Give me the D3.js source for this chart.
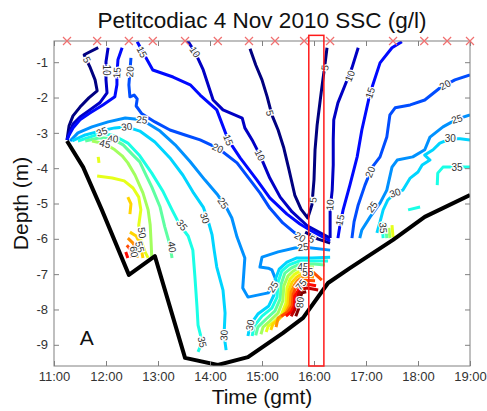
<!DOCTYPE html>
<html>
<head>
<meta charset="utf-8">
<script src="https://cdn.jsdelivr.net/npm/d3@7"></script>
<style>
  body { margin: 0; background: #fff; }
  text { font-family: Arial, "Liberation Sans", sans-serif; }
</style>
</head>
<body>
<script>

// ticks
var hours = [11, 12, 13, 14, 15, 16, 17, 18, 19];
var depthTicks = [-1, -2, -3, -4, -5, -6, -7, -8, -9];

// times of the profiles (red crosses) and the highlighted profile window
var castTimes = [11.25, 11.83, 12.44, 12.90, 13.52, 14.15, 14.75, 15.25, 15.81, 16.31, 17.52, 18.12, 18.56, 19.0];
var boxTimes = [15.90, 16.19];

// river bed [time, depth]
var bed = [[11.25,-3.23],[11.56,-3.97],[11.92,-5.18],[12.44,-7.02],[12.94,-6.49],[13.52,-9.37],
           [14.15,-9.57],[14.73,-9.35],[15.40,-8.67],[15.79,-8.24],[16.27,-7.25],[16.69,-6.83],
           [17.52,-6.03],[18.13,-5.38],[19.0,-4.76]];

// SSC contours [level g/l, [[time, depth], ...]]
var leftContours = [
  [5,  [[11.85,-0.59],[11.58,-0.79],[11.69,-1.13],[11.79,-1.50],[11.83,-1.81],[11.67,-2.01],[11.5,-2.27],[11.365,-2.52],[11.29,-2.80],[11.25,-3.20]]],
  [10, [[12.04,-0.59],[12.0,-0.99],[12.0,-1.50],[12.02,-1.87],[11.88,-2.15],[11.69,-2.35],[11.5,-2.55],[11.365,-2.75],[11.31,-2.95],[11.25,-3.20]]],
  [15, [[12.31,-0.59],[12.23,-0.93],[12.21,-1.36],[12.21,-1.64],[12.17,-1.98],[11.94,-2.21],[11.69,-2.44],[11.5,-2.63],[11.365,-2.86],[11.29,-3.06],[11.25,-3.20]]],
  [25, [[11.31,-3.23],[11.46,-3.00],[11.73,-2.83],[12.04,-2.69],[12.37,-2.58],[12.69,-2.63],[13.04,-2.95],[13.33,-3.34],[13.62,-3.82],[13.9,-4.33],[14.15,-4.76],[14.31,-5.10],[14.42,-5.41],[14.52,-5.95],[14.67,-6.54],[14.63,-7.39],[14.73,-7.65],[15.12,-7.53],[15.27,-7.17],[15.19,-6.88],[15.12,-6.83],[14.96,-6.80],[15.0,-6.52],[15.31,-6.37],[15.63,-6.26],[15.79,-6.23],[16.31,-6.32]]],
  [30, [[11.35,-3.23],[11.6,-3.06],[11.88,-2.95],[12.17,-2.86],[12.40,-2.83],[12.65,-2.95],[12.94,-3.26],[13.23,-3.71],[13.48,-4.20],[13.67,-4.67],[13.87,-5.10],[13.96,-5.47],[14.04,-5.89],[14.08,-6.32],[14.13,-6.80],[14.25,-7.45],[14.29,-8.10],[14.27,-8.73],[14.31,-9.15]]],
  [35, [[11.46,-3.23],[11.69,-3.12],[11.92,-3.00],[12.17,-3.09],[12.42,-3.29],[12.65,-3.65],[12.88,-4.14],[13.10,-4.67],[13.27,-5.18],[13.42,-5.61],[13.58,-5.92],[13.67,-6.32],[13.71,-7.08],[13.75,-7.93],[13.77,-8.44],[13.85,-8.92],[13.77,-9.20]]],
  [40, [[11.6,-3.23],[11.88,-3.14],[12.13,-3.17],[12.33,-3.34],[12.52,-3.63],[12.65,-3.82],[12.77,-4.20],[12.88,-4.53],[13.04,-5.10],[13.13,-5.66],[13.23,-6.18],[13.27,-6.54]]],
  [45, [[11.73,-3.23],[11.98,-3.31],[12.17,-3.48],[12.31,-3.65],[12.42,-3.85],[12.56,-4.20],[12.71,-4.70],[12.81,-5.18],[12.85,-5.61],[12.87,-6.18],[12.88,-6.54]]],
  [50, [[11.83,-4.22],[12.12,-4.28],[12.35,-4.36],[12.52,-4.56],[12.63,-4.82],[12.67,-5.18],[12.63,-5.61],[12.67,-6.03],[12.75,-6.37],[12.81,-6.54]]],
  [50, [[11.85,-3.68],[11.865,-3.85]]],
  [55, [[12.42,-4.82],[12.48,-5.01],[12.46,-5.30]]],
  [55, [[12.46,-5.81],[12.58,-5.92],[12.65,-6.12],[12.69,-6.37],[12.71,-6.54]]],
  [60, [[12.42,-5.98],[12.52,-6.12],[12.58,-6.32],[12.60,-6.54]]],
  [65, [[12.40,-6.18],[12.48,-6.32],[12.5,-6.54]]],
  [70, [[12.38,-6.37],[12.42,-6.54]]]
];

var midContours = [
  [5,  [[14.77,-0.62],[14.88,-1.08],[15.0,-1.50],[15.10,-1.98],[15.19,-2.49],[15.31,-2.92],[15.42,-3.43],[15.52,-4.05],[15.63,-4.76],[15.75,-5.16],[15.88,-5.41],[15.96,-5.04],[16.0,-4.33],[16.02,-3.48],[16.06,-2.78],[16.12,-2.07],[16.17,-1.50],[16.21,-1.08],[16.25,-0.59]]],
  [5,  [[15.83,-5.81],[16.08,-6.01],[16.31,-6.12]]],
  [10, [[13.56,-0.37],[13.71,-0.71],[13.87,-1.22],[14.06,-2.07],[14.25,-2.35],[14.62,-2.58],[14.67,-2.86],[14.81,-3.20],[14.96,-3.63],[15.15,-4.28],[15.35,-4.82],[15.58,-5.24],[15.87,-5.63],[16.12,-5.83],[16.31,-5.98]]],
  [15, [[12.60,-0.42],[12.79,-0.93],[12.9,-1.22],[13.29,-1.42],[13.62,-1.64],[13.81,-1.93],[14.13,-2.35],[14.35,-3.20],[14.58,-3.71],[14.9,-4.33],[15.15,-4.84],[15.48,-5.30],[15.73,-5.58],[15.92,-5.75],[16.31,-6.06]]],
  [20, [[12.48,-0.88],[12.46,-1.27],[12.44,-1.64],[12.46,-1.98],[12.54,-1.93],[12.60,-2.04],[12.58,-2.24],[12.69,-2.46],[12.94,-2.69],[13.23,-2.92],[13.52,-3.06],[13.81,-3.20],[14.15,-3.43],[14.52,-3.85],[14.77,-4.33],[14.96,-4.70],[15.15,-5.13],[15.40,-5.55],[15.63,-5.83],[15.77,-5.95]]]
];

var rightContours = [
  [10, [[16.85,-0.59],[16.73,-1.16],[16.6,-1.64],[16.46,-2.15],[16.38,-2.63],[16.37,-3.20],[16.37,-3.91],[16.35,-4.62],[16.31,-5.18],[16.31,-5.98]]],
  [15, [[17.69,-0.42],[17.5,-0.59],[17.27,-1.02],[17.08,-1.87],[16.92,-2.92],[16.83,-3.68],[16.69,-4.48],[16.56,-5.18],[16.5,-5.61],[16.46,-5.98]]],
  [20, [[19.0,-1.36],[18.71,-1.50],[18.42,-1.73],[18.13,-2.07],[17.85,-2.21],[17.56,-2.29],[17.46,-2.49],[17.40,-3.12],[17.27,-3.68],[17.12,-3.97],[16.98,-4.48],[16.85,-5.04],[16.77,-5.52],[16.73,-5.98]]],
  [25, [[19.0,-2.49],[18.75,-2.61],[18.48,-2.83],[18.23,-3.12],[18.13,-3.48],[17.9,-3.68],[17.6,-3.77],[17.5,-3.97],[17.40,-4.62],[17.27,-4.99],[17.08,-5.38],[16.92,-5.75],[16.88,-5.98]]],
  [30, [[19.0,-3.20],[18.81,-3.17],[18.62,-3.17],[18.42,-3.29],[18.29,-3.48],[18.13,-3.63],[18.23,-3.77],[18.08,-3.91],[18.0,-4.11],[17.85,-4.28],[17.71,-4.62],[17.56,-4.70],[17.42,-4.90],[17.33,-5.18],[17.27,-5.52],[17.21,-5.83]]],
  [35, [[19.0,-3.97],[18.71,-3.97],[18.48,-3.97],[18.38,-4.14],[18.37,-4.48]]],
  [35, [[17.81,-5.18],[18.04,-5.10]]],
  [35, [[17.31,-5.52],[17.33,-5.98]]],
  [40, [[17.38,-5.61],[17.40,-5.98]]],
  [45, [[17.44,-5.69],[17.46,-5.98]]],
  [50, [[17.5,-5.61],[17.52,-5.95]]]
];

// high concentration core near the bed at ~15:30
var coreContours = [
  [30, [[14.73,-8.75],[14.77,-8.44],[14.92,-8.13],[15.13,-7.90],[15.23,-7.59],[15.25,-7.17],[15.33,-6.86],[15.48,-6.66],[15.67,-6.54],[15.96,-6.54],[16.31,-6.52]]],
  [35, [[14.81,-8.75],[14.85,-8.47],[15.0,-8.19],[15.19,-7.96],[15.29,-7.65],[15.31,-7.22],[15.38,-6.91],[15.52,-6.74],[15.71,-6.63],[15.98,-6.63],[16.27,-6.63]]],
  [40, [[14.88,-8.73],[14.92,-8.50],[15.08,-8.27],[15.25,-8.04],[15.35,-7.70],[15.37,-7.28],[15.44,-6.97],[15.56,-6.83],[15.73,-6.71],[16.0,-6.71],[16.21,-6.74]]],
  [45, [[14.98,-8.70],[15.02,-8.50],[15.15,-8.33],[15.31,-8.10],[15.40,-7.76],[15.42,-7.33],[15.5,-7.05],[15.6,-6.91],[15.75,-6.80],[16.0,-6.80]]],
  [50, [[15.08,-8.64],[15.12,-8.47],[15.23,-8.35],[15.37,-8.16],[15.46,-7.82],[15.48,-7.39],[15.54,-7.14],[15.63,-7.00],[15.77,-6.88],[15.98,-6.88]]],
  [55, [[15.17,-8.58],[15.21,-8.41],[15.31,-8.30],[15.42,-8.13],[15.5,-7.84],[15.52,-7.45],[15.58,-7.22],[15.67,-7.08],[15.79,-6.97],[15.98,-6.97]]],
  [60, [[15.27,-8.50],[15.31,-8.24],[15.46,-8.10],[15.54,-7.87],[15.56,-7.50],[15.62,-7.31],[15.69,-7.17],[15.81,-7.05],[16.0,-7.08]]],
  [65, [[15.37,-8.19],[15.5,-8.07],[15.58,-7.90],[15.6,-7.56],[15.65,-7.39],[15.73,-7.25],[15.83,-7.17],[16.02,-7.19]]],
  [65, [[15.98,-6.94],[16.15,-7.17]]],
  [70, [[15.46,-8.19],[15.56,-8.07],[15.62,-7.90],[15.63,-7.62],[15.69,-7.48],[15.75,-7.33],[15.85,-7.28],[16.04,-7.33]]],
  [75, [[15.56,-8.19],[15.63,-8.01],[15.67,-7.73],[15.71,-7.53],[15.77,-7.42],[15.87,-7.39],[16.08,-7.45]]],
  [80, [[15.65,-8.19],[15.71,-7.96],[15.73,-7.67],[15.77,-7.53],[15.85,-7.50]]]
];

// contour labels [level, time, depth]
var labelPts = [
  [5,11.63,-0.93],[10,12.0,-1.22],[15,12.21,-1.30],[20,12.46,-1.27],[25,12.69,-2.63],[30,12.40,-2.83],
  [35,11.92,-2.97],[40,12.13,-3.17],[45,11.98,-3.31],
  [15,12.69,-0.71],[10,13.71,-0.71],[5,15.15,-2.44],[10,14.96,-3.63],[15,14.35,-3.20],[20,14.15,-3.43],
  [25,14.25,-4.99],[30,13.9,-5.41],[35,13.46,-5.61],[40,13.27,-6.23],[50,12.69,-5.83],[55,12.65,-6.23],[60,12.54,-6.37],
  [5,16.21,-1.16],[5,15.98,-4.90],[10,16.31,-5.04],[10,16.69,-1.39],[15,17.08,-1.87],[15,16.5,-5.47],
  [20,18.52,-1.64],[20,17.08,-4.11],[25,18.75,-2.61],[25,17.12,-5.10],[30,18.62,-3.17],[30,17.56,-4.70],
  [35,18.75,-3.97],[35,17.33,-5.69],
  [35,13.85,-8.92],[30,14.27,-8.73],[30,14.77,-8.44],[25,15.21,-7.36],[25,15.79,-6.23],[20,15.73,-5.95],[5,15.96,-6.01],
  [80,15.73,-7.80],[75,15.75,-7.30],[45,15.79,-6.80],[55,15.88,-6.95]
];

var w = 487, h = 411,
    plotLeft = 54, plotRight = 470, plotTop = 41, plotBottom = 366;

var svg = d3.select("body")
            .append("svg")
            .attr("width", w)
            .attr("height", h);

var x = d3.scaleLinear().domain([11, 19]).range([plotLeft, plotRight]);
var y = d3.scaleLinear().domain([-9.6, -0.4]).range([plotBottom, plotTop]);

// jet colour map over the contour levels
var color = d3.scaleLinear()
    .domain([5, 14.375, 33.125, 51.875, 70.625, 80])
    .range(["#000080", "#0000ff", "#00ffff", "#ffff00", "#ff0000", "#800000"]);

svg.append("clipPath").attr("id", "plot")
   .append("rect").attr("x", plotLeft).attr("y", plotTop)
   .attr("width", plotRight - plotLeft).attr("height", plotBottom - plotTop);

var line = d3.line().x(function(d){ return x(d[0]); }).y(function(d){ return y(d[1]); });

var contours = leftContours.concat(midContours, rightContours, coreContours);

var g = svg.append("g").attr("clip-path", "url(#plot)");

g.selectAll("path.contour")
    .data(contours)
    .enter()
    .append("path")
    .attr("class", "contour")
    .attr("d", function(d){ return line(d[1]); })
    .attr("fill", "none")
    .attr("stroke", function(d){ return color(d[0]); })
    .attr("stroke-width", 3)
    .attr("stroke-linejoin", "round");

// bed
g.append("path")
    .attr("d", line(bed))
    .attr("fill", "none")
    .attr("stroke", "#000")
    .attr("stroke-width", 4)
    .attr("stroke-linejoin", "round");

// label rotation follows the nearest piece of the same contour level
function labelAngle(lv, px, py) {
    var best = 1e9, ang = 0;
    contours.forEach(function(c){
        if (c[0] !== lv) return;
        var p = c[1];
        for (var i = 0; i < p.length - 1; i++) {
            var ax = x(p[i][0]), ay = y(p[i][1]), bx = x(p[i+1][0]), by = y(p[i+1][1]);
            var dx = bx - ax, dy = by - ay, L = dx*dx + dy*dy || 1;
            var t = Math.max(0, Math.min(1, ((px-ax)*dx + (py-ay)*dy) / L));
            var qx = ax + t*dx - px, qy = ay + t*dy - py, dist = qx*qx + qy*qy;
            if (dist < best) { best = dist; ang = Math.atan2(dy, dx) * 180 / Math.PI; }
        }
    });
    if (ang > 90) ang -= 180;
    if (ang <= -90) ang += 180;
    return ang;
}

svg.selectAll("text.clabel")
    .data(labelPts)
    .enter()
    .append("text")
    .attr("class", "clabel")
    .attr("transform", function(d){
        var px = x(d[1]), py = y(d[2]);
        return "translate(" + px + "," + py + ") rotate(" + labelAngle(d[0], px, py) + ")";
    })
    .attr("text-anchor", "middle")
    .attr("dy", "0.35em")
    .attr("font-size", "10px")
    .attr("fill", "#333")
    .attr("stroke", "#fff")
    .attr("stroke-width", 2.5)
    .attr("paint-order", "stroke")
    .text(function(d){ return d[0]; });

// axes, Matlab style with inward ticks
svg.append("g")
    .attr("transform", "translate(0," + plotBottom + ")")
    .call(d3.axisBottom(x).tickValues(hours).tickSizeInner(-5).tickSizeOuter(0).tickPadding(6)
          .tickFormat(function(d){ return d + ":00"; }));
svg.append("g")
    .attr("transform", "translate(0," + plotTop + ")")
    .call(d3.axisTop(x).tickValues(hours).tickSizeInner(-5).tickSizeOuter(0).tickFormat(""));
svg.append("g")
    .attr("transform", "translate(" + plotLeft + ",0)")
    .call(d3.axisLeft(y).tickValues(depthTicks).tickSizeInner(-5).tickSizeOuter(0).tickPadding(6)
          .tickFormat(function(d){ return String(d); }));
svg.append("g")
    .attr("transform", "translate(" + plotRight + ",0)")
    .call(d3.axisRight(y).tickValues(depthTicks).tickSizeInner(-5).tickSizeOuter(0).tickFormat(""));

svg.selectAll(".domain").remove();
svg.selectAll(".tick line").attr("stroke", "#808080");
svg.selectAll(".tick text")
    .attr("font-size", "13px")
    .attr("font-family", "Arial, 'Liberation Sans', sans-serif")
    .attr("fill", "#333");

svg.append("rect")
    .attr("x", plotLeft).attr("y", plotTop)
    .attr("width", plotRight - plotLeft).attr("height", plotBottom - plotTop)
    .attr("fill", "none")
    .attr("stroke", "#808080");

// profile times
svg.selectAll("path.cast")
    .data(castTimes)
    .enter()
    .append("path")
    .attr("class", "cast")
    .attr("d", function(d){
        var cx = x(d), cy = y(-0.4);
        return "M" + (cx-4) + "," + (cy-4) + "L" + (cx+4) + "," + (cy+4) +
               "M" + (cx-4) + "," + (cy+4) + "L" + (cx+4) + "," + (cy-4);
    })
    .attr("stroke", "#f07070")
    .attr("stroke-width", 1.2);

// highlighted profile
svg.append("rect")
    .attr("x", x(boxTimes[0]))
    .attr("y", y(-0.24))
    .attr("width", x(boxTimes[1]) - x(boxTimes[0]))
    .attr("height", y(-9.6) - y(-0.24))
    .attr("fill", "none")
    .attr("stroke", "#ff1a1a")
    .attr("stroke-width", 1.5);

svg.append("text")
    .attr("x", x(11.63)).attr("y", y(-8.8))
    .attr("dy", "0.36em")
    .attr("text-anchor", "middle")
    .attr("font-size", "21px")
    .attr("fill", "#111")
    .text("A");

svg.append("text")
    .attr("x", (plotLeft + plotRight) / 2).attr("y", 28)
    .attr("text-anchor", "middle")
    .attr("font-size", "22.5px")
    .attr("fill", "#111")
    .text("Petitcodiac 4 Nov 2010 SSC (g/l)");

svg.append("text")
    .attr("x", (plotLeft + plotRight) / 2).attr("y", 404)
    .attr("text-anchor", "middle")
    .attr("font-size", "21px")
    .attr("fill", "#111")
    .text("Time (gmt)");

svg.append("text")
    .attr("transform", "translate(28," + ((plotTop + plotBottom) / 2) + ") rotate(-90)")
    .attr("text-anchor", "middle")
    .attr("font-size", "21px")
    .attr("fill", "#111")
    .text("Depth (m)");

</script>
</body>
</html>
